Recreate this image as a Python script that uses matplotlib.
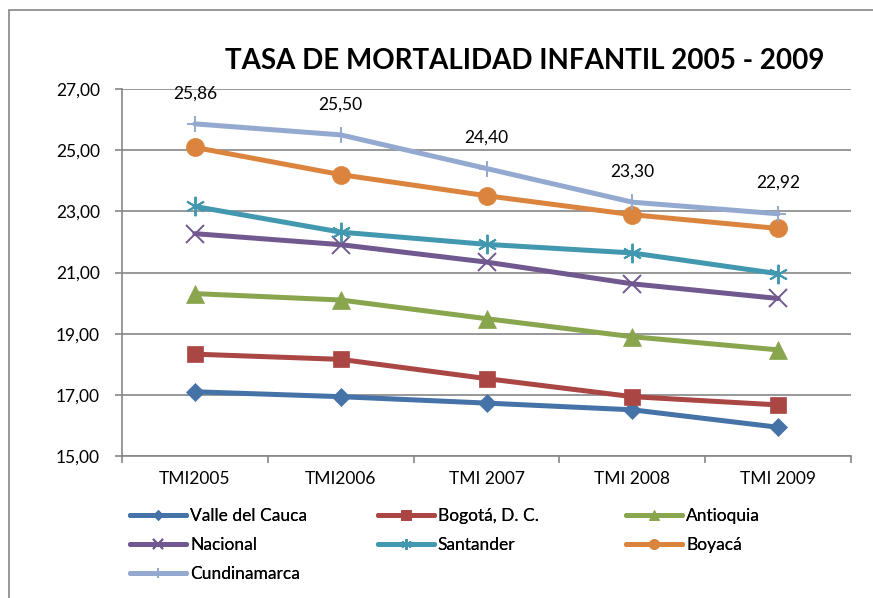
import matplotlib
matplotlib.use('Agg')
import matplotlib.pyplot as plt
from matplotlib.patches import Rectangle
from matplotlib.ticker import FuncFormatter

plt.rcParams['font.family'] = ['Lato', 'DejaVu Sans']

categorias = ['TMI2005', 'TMI2006', 'TMI 2007', 'TMI 2008', 'TMI 2009']
valle = [17.10, 16.94, 16.73, 16.51, 15.94]
bogota = [18.33, 18.16, 17.53, 16.94, 16.67]
antioquia = [20.31, 20.10, 19.49, 18.90, 18.47]
nacional = [22.27, 21.91, 21.34, 20.63, 20.15]
santander = [23.16, 22.32, 21.92, 21.64, 20.96]
boyaca = [25.09, 24.20, 23.51, 22.89, 22.44]
cundinamarca = [25.86, 25.50, 24.40, 23.30, 22.92]

# nombre, valores, color, marcador, tamaño, borde
series = [
    ('Valle del Cauca', valle, '#4572A7', 'D', 9.0, 0.5),
    ('Bogotá, D. C.', bogota, '#AA4643', 's', 12.0, 0.5),
    ('Antioquia', antioquia, '#89A54E', '^', 13.0, 0.5),
    ('Nacional', nacional, '#71588F', 'x', 12.5, 1.4),
    ('Santander', santander, '#4198AF', (6, 2, 0), 14.0, 1.4),
    ('Boyacá', boyaca, '#DB843D', 'o', 13.0, 0.5),
    ('Cundinamarca', cundinamarca, '#93A9CF', '+', 12.0, 1.4),
]

fig = plt.figure(figsize=(8.73, 5.98), dpi=100)
ax = fig.add_axes([122 / 873, 1 - 456 / 598, (851 - 122) / 873, (456 - 89) / 598])

x = list(range(len(categorias)))
lineas = {}
for nombre, valores, color, marca, ms, mew in series:
    ln, = ax.plot(x, valores, color=color, lw=3.6, marker=marca, ms=ms,
                  mew=mew, mec=color, mfc=color, label=nombre,
                  solid_capstyle='round', solid_joinstyle='round', clip_on=False)
    lineas[nombre] = ln

for xi, v in zip(x, cundinamarca):
    ax.annotate(('%.2f' % v).replace('.', ','), (xi, v), xytext=(0, 18.5),
                textcoords='offset points', ha='center', va='baseline', fontsize=12.5)

ax.set_xlim(-0.5, len(categorias) - 0.5)
ax.set_ylim(15, 27)
ax.set_yticks([15, 17, 19, 21, 23, 25, 27])
ax.yaxis.set_major_formatter(FuncFormatter(lambda v, p: ('%.2f' % v).replace('.', ',')))
ax.set_xticks(x)
ax.set_xticklabels(categorias)
ax.set_xticks([i - 0.5 for i in range(len(categorias) + 1)], minor=True)
ax.tick_params(axis='x', which='major', length=0, pad=11, labelsize=12.5)
ax.tick_params(axis='x', which='minor', length=5, width=1.2, color='#868686')
ax.tick_params(axis='y', length=5, width=1.2, color='#868686', pad=11, labelsize=12.5)

ax.grid(axis='y', color='#868686', lw=1.2)
ax.set_axisbelow(True)
for lado in ['top', 'right']:
    ax.spines[lado].set_visible(False)
for lado in ['left', 'bottom']:
    ax.spines[lado].set_color('#868686')
    ax.spines[lado].set_linewidth(1.2)

fig.text(525 / 873, 1 - 69 / 598, 'TASA DE MORTALIDAD INFANTIL 2005 - 2009',
         ha='center', va='baseline', fontsize=20, fontweight='bold')

# leyenda en tres columnas, ordenada por filas como en el original
columnas = [['Valle del Cauca', 'Nacional', 'Cundinamarca'],
            ['Bogotá, D. C.', 'Santander'],
            ['Antioquia', 'Boyacá']]
x_cols = [130, 378, 626]
for nombres, xc in zip(columnas, x_cols):
    leg = fig.legend([lineas[n] for n in nombres], nombres, loc='upper left',
                     bbox_to_anchor=(xc / 873, 1 - 508 / 598), frameon=False,
                     fontsize=12.5, handlelength=3.2, handletextpad=0.25,
                     labelspacing=0.76, borderpad=0, borderaxespad=0, markerscale=0.55)
    fig.add_artist(leg)

fig.add_artist(Rectangle((9 / 873, -0.5), 2.0, 1 - 10 / 598 + 0.5, transform=fig.transFigure,
                         fill=False, edgecolor='#868686', lw=1.2, clip_on=False))

fig.savefig('out.png', dpi=100)
